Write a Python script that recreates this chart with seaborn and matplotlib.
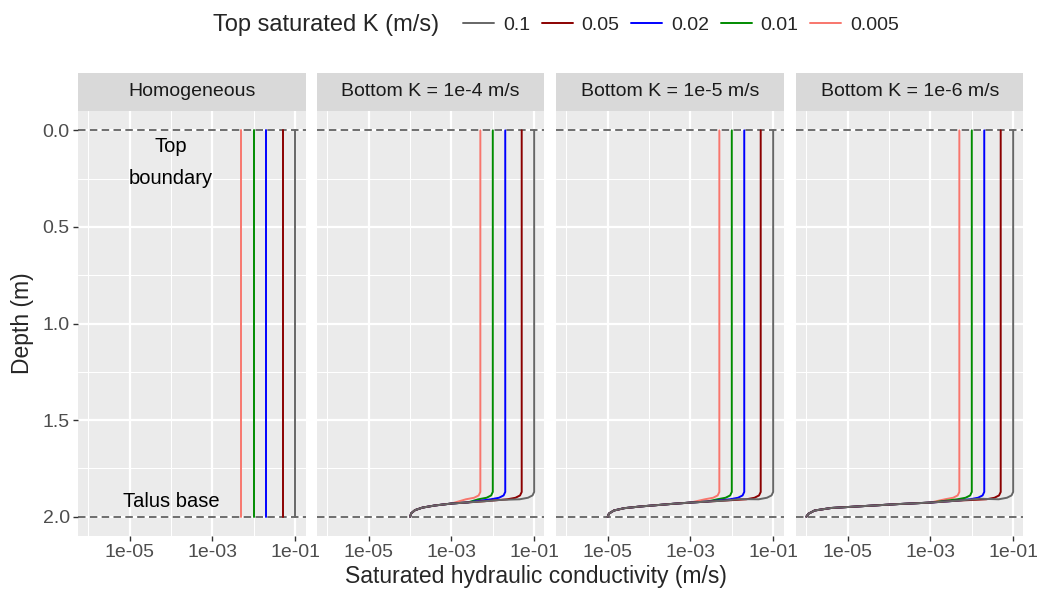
import numpy as np
import pandas as pd
import matplotlib
matplotlib.use("Agg")
import matplotlib.pyplot as plt
from matplotlib.patches import Rectangle
from matplotlib.lines import Line2D
from matplotlib.ticker import FixedLocator, NullFormatter
import seaborn as sns

# Top saturated K series (hue)
top_k = [0.1, 0.05, 0.02, 0.01, 0.005]
top_k_labels = ["0.1", "0.05", "0.02", "0.01", "0.005"]
line_colors = ["#666666", "#8B0000", "#0000FF", "#008B00", "#F8766D"]

panel_titles = ["Homogeneous", "Bottom K = 1e-4 m/s", "Bottom K = 1e-5 m/s", "Bottom K = 1e-6 m/s"]

# bend just above the talus base (offset in log10 K from top value, depth m)
bend_dlog = [0.0, -0.04, -0.15, -0.35]
bend_depth = [1.872, 1.89, 1.902, 1.91]

# shared lower tail of the profiles
tail_1e4_logk = [-1.45, -1.8, -2.2, -2.6, -3.0, -3.4, -3.7, -3.88, -3.97, -4.0]
tail_1e4_depth = [1.905, 1.913, 1.92, 1.926, 1.932, 1.942, 1.953, 1.966, 1.982, 2.0]
tail_1e5_logk = [-1.45, -1.8, -2.2, -2.6, -3.0, -3.4, -3.8, -4.2, -4.6, -4.85, -4.97, -5.0]
tail_1e5_depth = [1.903, 1.909, 1.917, 1.922, 1.927, 1.933, 1.94, 1.947, 1.956, 1.968, 1.984, 2.0]
tail_1e6_logk = [-1.45, -1.8, -2.35, -3.0, -3.8, -4.6, -5.4, -5.8, -5.95, -6.0]
tail_1e6_depth = [1.902, 1.907, 1.917, 1.927, 1.935, 1.945, 1.955, 1.968, 1.985, 2.0]

tails = {
    panel_titles[1]: (tail_1e4_logk, tail_1e4_depth),
    panel_titles[2]: (tail_1e5_logk, tail_1e5_depth),
    panel_titles[3]: (tail_1e6_logk, tail_1e6_depth),
}

# annotations in the homogeneous panel
annot_texts = ["Top\nboundary", "Talus base"]
annot_k = [1e-4, 1e-4]
annot_depth = [0.167, 1.922]

rows = []
for panel in panel_titles:
    for k, lab in zip(top_k, top_k_labels):
        lk = np.log10(k)
        if panel == "Homogeneous":
            logs = [lk, lk]
            depths = [0.0, 2.0]
        else:
            t_log, t_dep = tails[panel]
            cut = lk + bend_dlog[-1] - 0.2
            logs = [lk] + [lk + d for d in bend_dlog] + [v for v in t_log if v < cut]
            depths = [0.0] + bend_depth + [d for v, d in zip(t_log, t_dep) if v < cut]
        for i, (lg, dp) in enumerate(zip(logs, depths)):
            rows.append({"panel": panel, "top_k": lab, "K": 10 ** lg, "depth": dp, "i": i})
df = pd.DataFrame(rows)

sns.set_theme(style="darkgrid", rc={
    "axes.facecolor": "#EBEBEB",
    "grid.color": "white",
})
plt.rcParams["font.family"] = ["Liberation Sans", "DejaVu Sans"]

W, H = 1037, 593
fig = plt.figure(figsize=(W / 100, H / 100), dpi=100)
fig.patch.set_facecolor("white")

panel_left = [78, 317, 556, 796]
panel_w = 227.5
top_px, bot_px = 111, 536
strip_h = 38

# draw the low-K series first so the grey line sits on top in the shared tail
draw_order = top_k_labels[::-1]
draw_colors = line_colors[::-1]

for j, panel in enumerate(panel_titles):
    ax = fig.add_axes([panel_left[j] / W, 1 - bot_px / H, panel_w / W, (bot_px - top_px) / H])
    sub = df[df["panel"] == panel]
    sns.lineplot(data=sub, x="K", y="depth", hue="top_k", hue_order=draw_order,
                 palette=draw_colors, estimator=None, sort=False, legend=False,
                 lw=1.4, ax=ax)
    ax.axhline(0, color="#555555", ls=(0, (4.5, 2.6)), lw=1.2, zorder=1)
    ax.axhline(2, color="#555555", ls=(0, (4.5, 2.6)), lw=1.2, zorder=1)
    ax.set_xscale("log")
    ax.set_xlim(10 ** -6.25, 10 ** -0.75)
    ax.set_ylim(2.1, -0.1)

    ax.xaxis.set_major_locator(FixedLocator([1e-5, 1e-3, 1e-1]))
    ax.xaxis.set_minor_locator(FixedLocator([1e-6, 1e-4, 1e-2]))
    ax.xaxis.set_minor_formatter(NullFormatter())
    ax.set_xticklabels(["1e-05", "1e-03", "1e-01"])
    ax.yaxis.set_major_locator(FixedLocator([0, 0.5, 1.0, 1.5, 2.0]))
    ax.yaxis.set_minor_locator(FixedLocator([0.25, 0.75, 1.25, 1.75]))
    ax.grid(which="major", color="white", lw=1.6)
    ax.grid(which="minor", color="white", lw=0.75)
    ax.set_axisbelow(True)
    for s in ax.spines.values():
        s.set_visible(False)
    ax.tick_params(which="major", length=3.5, width=1.0, color="#333333",
                   labelcolor="#4D4D4D", labelsize=14, pad=2.5)
    ax.tick_params(which="minor", length=0)
    ax.tick_params(axis="x", bottom=True)
    if j == 0:
        ax.set_yticklabels(["0.0", "0.5", "1.0", "1.5", "2.0"])
        ax.tick_params(axis="y", left=True)
        for txt, xk, yd in zip(annot_texts, annot_k, annot_depth):
            ax.text(xk, yd, txt, ha="center", va="center", fontsize=14.5,
                    color="black", linespacing=1.85)
    else:
        ax.tick_params(axis="y", left=False, labelleft=False)
    ax.set_xlabel("")
    ax.set_ylabel("")

    sh = strip_h / (bot_px - top_px)
    ax.add_patch(Rectangle((0, 1), 1, sh, transform=ax.transAxes, clip_on=False,
                           facecolor="#D9D9D9", edgecolor="none"))
    ax.text(0.5, 1 + sh / 2, panel, transform=ax.transAxes, ha="center", va="center",
            fontsize=14, color="#1A1A1A")

fig.text(536 / W, 1 - 577 / H, "Saturated hydraulic conductivity (m/s)",
         ha="center", va="center", fontsize=16.5)
fig.text(22 / W, 1 - 323 / H, "Depth (m)", ha="center", va="center",
         rotation=90, fontsize=16.5)

fig.text(213 / W, 1 - 25 / H, "Top saturated K (m/s)", ha="left", va="center",
         fontsize=17)
handles = [Line2D([], [], color=c, lw=1.4) for c in line_colors]
fig.legend(handles, top_k_labels, loc="center left", bbox_to_anchor=(463 / W, 1 - 25 / H),
           ncol=5, frameon=False, fontsize=14, handlelength=1.6, handletextpad=0.45,
           columnspacing=0.6, borderpad=0, borderaxespad=0)

fig.savefig("out.png", dpi=100)
